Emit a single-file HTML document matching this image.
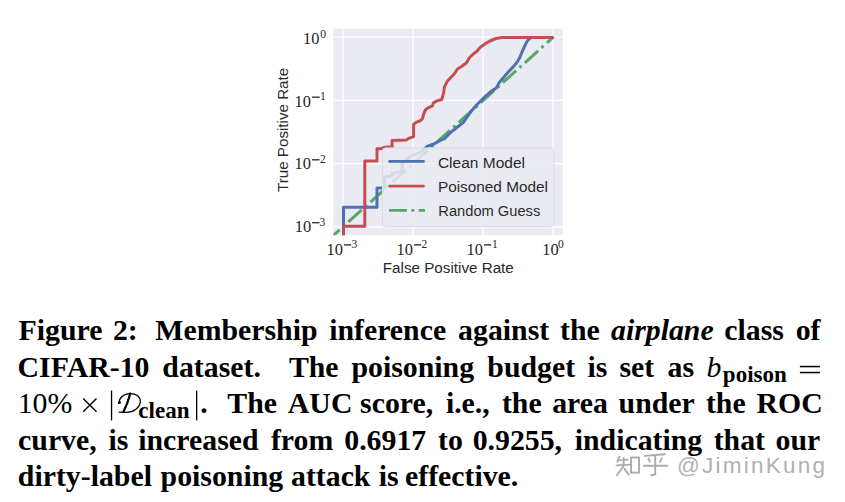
<!DOCTYPE html>
<html><head><meta charset="utf-8">
<style>
html,body{margin:0;padding:0;background:#fff;}
body{width:845px;height:502px;overflow:hidden;position:relative;}
svg{position:absolute;left:0;top:0;}
</style></head><body>
<svg width="845" height="502" viewBox="0 0 845 502">
<defs><clipPath id="pc"><rect x="333.3" y="28.6" width="229.5" height="206.6"/></clipPath></defs>
<rect x="333.3" y="28.6" width="229.5" height="206.6" fill="#EAEAF2"/>
<g stroke="#fff" stroke-width="1.2">
<line x1="343" y1="28.6" x2="343" y2="235.2"/>
<line x1="413" y1="28.6" x2="413" y2="235.2"/>
<line x1="483" y1="28.6" x2="483" y2="235.2"/>
<line x1="553" y1="28.6" x2="553" y2="235.2"/>
<line x1="333.3" y1="37" x2="562.8" y2="37"/>
<line x1="333.3" y1="100.3" x2="562.8" y2="100.3"/>
<line x1="333.3" y1="163.6" x2="562.8" y2="163.6"/>
<line x1="333.3" y1="226.8" x2="562.8" y2="226.8"/>
</g>
<g clip-path="url(#pc)" fill="none" stroke-width="3" stroke-linejoin="round">
<polyline stroke="#55A868" stroke-dasharray="17.9 4.5 2.8 4.5" stroke-dashoffset="9.4" points="333.3,235.5 553.5,37"/>
<polyline stroke="#4C72B0" points="343.5,236 343.5,207.2 377,207.2 377,187.9 384.7,187.9 384.7,176.9 391.5,176 392.3,173.3 402.2,171.5 402.2,163.5 409.4,157.2 411.2,155.4 415.7,154.5 421,151.8 427.2,146.5 433.8,144 439.3,141 444.7,138.5 450.2,132.8 457.9,126.8 463.4,122.4 471,111.4 476.6,105 484.3,97.3 491.9,90.7 496.3,88 499.6,81.9 504,77 508.2,72 513,67.1 517,62.3 519.8,57.5 522.1,51.9 524.5,46.4 526.9,41.6 528.9,39.2 531.3,37.6 535,37.4 553.5,37.4"/>
<polyline stroke="#C44E52" points="343.5,236 343.5,226.3 364.8,226.3 364.8,161 377,161 377,148.7 381,148.7 385,147.2 392.1,146.7 392.1,140.6 406.2,140.1 408.2,138.6 413.6,136.6 413.6,124.3 416,122.3 420,120.8 422.4,118.9 423.4,114.9 425.4,109.9 427.9,107.9 432.4,105.9 433.4,102.9 436.9,100.9 441.8,99.5 442.8,96 443.8,92 444.4,87.1 447.1,81.6 449.9,78.4 454.2,74 457.5,69 461.9,66.3 466.3,63 469.6,57.5 472.9,54.2 477.3,51 480,47.4 485,43.9 489.9,41 495.9,38.5 502.4,37.6 515,37.4 553.5,37.4"/>
</g>
<rect x="382.5" y="147.9" width="171.3" height="78.6" rx="3" ry="3" fill="#EAEAF2" fill-opacity="0.86" stroke="#dcdce2" stroke-width="1"/>
<g stroke-width="2.9" fill="none">
<line x1="389.6" y1="161.4" x2="423.4" y2="161.4" stroke="#4C72B0" stroke-linecap="round"/>
<line x1="389.6" y1="186.1" x2="423.4" y2="186.1" stroke="#C44E52" stroke-linecap="round"/>
<line x1="389" y1="210.4" x2="425" y2="210.4" stroke="#55A868" stroke-dasharray="17.9 4.5 2.8 4.5"/>
</g>
<g font-family="Liberation Sans, sans-serif" font-size="15.2" fill="#2a2a2a">
<text x="437.9" y="167.6" textLength="87.1" lengthAdjust="spacingAndGlyphs">Clean Model</text>
<text x="437.9" y="191.9" textLength="110.1" lengthAdjust="spacingAndGlyphs">Poisoned Model</text>
<text x="438.3" y="216.4" textLength="102" lengthAdjust="spacingAndGlyphs">Random Guess</text>
<text x="382.8" y="272.6" textLength="131" lengthAdjust="spacingAndGlyphs">False Positive Rate</text>
<text transform="translate(287.8,192) rotate(-90)" x="0" y="0" textLength="124.2" lengthAdjust="spacingAndGlyphs">True Positive Rate</text>
</g>

<g>
<text x="303.10" y="43.80" font-family="Liberation Serif" font-size="17.3" fill="#262626" textLength="16.4" lengthAdjust="spacingAndGlyphs">10</text><text x="320.20" y="37.60" font-family="Liberation Serif" font-size="11.6" fill="#262626">0</text><text x="294.50" y="106.50" font-family="Liberation Serif" font-size="17.3" fill="#262626" textLength="16.4" lengthAdjust="spacingAndGlyphs">10</text><rect x="312.1" y="96.55" width="7.60" height="1.3" fill="#262626"/><text x="320.00" y="100.00" font-family="Liberation Serif" font-size="11.6" fill="#262626">1</text><text x="294.50" y="168.90" font-family="Liberation Serif" font-size="17.3" fill="#262626" textLength="16.4" lengthAdjust="spacingAndGlyphs">10</text><rect x="312.0" y="159.15" width="7.50" height="1.3" fill="#262626"/><text x="319.90" y="162.60" font-family="Liberation Serif" font-size="11.6" fill="#262626">2</text><text x="294.70" y="231.90" font-family="Liberation Serif" font-size="17.3" fill="#262626" textLength="16.4" lengthAdjust="spacingAndGlyphs">10</text><rect x="312.1" y="222.05" width="7.40" height="1.3" fill="#262626"/><text x="319.50" y="225.50" font-family="Liberation Serif" font-size="11.6" fill="#262626">3</text><text x="326.50" y="254.90" font-family="Liberation Serif" font-size="17.3" fill="#262626" textLength="16.4" lengthAdjust="spacingAndGlyphs">10</text><rect x="344" y="244.25" width="7.20" height="1.3" fill="#262626"/><text x="351.50" y="247.80" font-family="Liberation Serif" font-size="11.6" fill="#262626">3</text><text x="396.50" y="254.90" font-family="Liberation Serif" font-size="17.3" fill="#262626" textLength="16.4" lengthAdjust="spacingAndGlyphs">10</text><rect x="414" y="244.25" width="7.20" height="1.3" fill="#262626"/><text x="421.50" y="247.80" font-family="Liberation Serif" font-size="11.6" fill="#262626">2</text><text x="466.50" y="254.90" font-family="Liberation Serif" font-size="17.3" fill="#262626" textLength="16.4" lengthAdjust="spacingAndGlyphs">10</text><rect x="484" y="244.25" width="7.20" height="1.3" fill="#262626"/><text x="492.10" y="247.80" font-family="Liberation Serif" font-size="11.6" fill="#262626">1</text><text x="542.20" y="254.80" font-family="Liberation Serif" font-size="17.3" fill="#262626" textLength="16.4" lengthAdjust="spacingAndGlyphs">10</text><text x="558.00" y="248.20" font-family="Liberation Serif" font-size="11.6" fill="#262626">0</text>
</g>
<g>
<text x="18.60" y="339.70" font-family="Liberation Serif" font-size="29.8" font-weight="bold">Figure</text>
<text x="112.95" y="339.70" font-family="Liberation Serif" font-size="29.8" font-weight="bold">2:</text>
<text x="155.30" y="339.70" font-family="Liberation Serif" font-size="29.8" font-weight="bold">Membership</text>
<text x="329.18" y="339.70" font-family="Liberation Serif" font-size="29.8" font-weight="bold">inference</text>
<text x="458.10" y="339.70" font-family="Liberation Serif" font-size="29.8" font-weight="bold">against</text>
<text x="560.10" y="339.70" font-family="Liberation Serif" font-size="29.8" font-weight="bold">the</text>
<text x="724.30" y="339.70" font-family="Liberation Serif" font-size="29.8" font-weight="bold">class</text>
<text x="795.67" y="339.70" font-family="Liberation Serif" font-size="29.8" font-weight="bold">of</text>
<text x="17.60" y="376.90" font-family="Liberation Serif" font-size="29.8" font-weight="bold">CIFAR-10</text>
<text x="162.35" y="376.90" font-family="Liberation Serif" font-size="29.8" font-weight="bold">dataset.</text>
<text x="288.90" y="376.90" font-family="Liberation Serif" font-size="29.8" font-weight="bold">The</text>
<text x="351.52" y="376.90" font-family="Liberation Serif" font-size="29.8" font-weight="bold">poisoning</text>
<text x="487.32" y="376.90" font-family="Liberation Serif" font-size="29.8" font-weight="bold">budget</text>
<text x="587.38" y="376.90" font-family="Liberation Serif" font-size="29.8" font-weight="bold">is</text>
<text x="619.52" y="376.90" font-family="Liberation Serif" font-size="29.8" font-weight="bold">set</text>
<text x="667.60" y="376.90" font-family="Liberation Serif" font-size="29.8" font-weight="bold">as</text>
<text x="227.30" y="412.80" font-family="Liberation Serif" font-size="29.8" font-weight="bold">The</text>
<text x="287.85" y="412.80" font-family="Liberation Serif" font-size="29.8" font-weight="bold">AUC</text>
<text x="360.12" y="412.80" font-family="Liberation Serif" font-size="29.8" font-weight="bold">score,</text>
<text x="445.88" y="412.80" font-family="Liberation Serif" font-size="29.8" font-weight="bold">i.e.,</text>
<text x="501.90" y="412.80" font-family="Liberation Serif" font-size="29.8" font-weight="bold">the</text>
<text x="552.20" y="412.80" font-family="Liberation Serif" font-size="29.8" font-weight="bold">area</text>
<text x="618.60" y="412.80" font-family="Liberation Serif" font-size="29.8" font-weight="bold">under</text>
<text x="705.90" y="412.80" font-family="Liberation Serif" font-size="29.8" font-weight="bold">the</text>
<text x="756.60" y="412.80" font-family="Liberation Serif" font-size="29.8" font-weight="bold">ROC</text>
<text x="18.10" y="450.00" font-family="Liberation Serif" font-size="29.8" font-weight="bold">curve,</text>
<text x="108.38" y="450.00" font-family="Liberation Serif" font-size="29.8" font-weight="bold">is</text>
<text x="138.28" y="450.00" font-family="Liberation Serif" font-size="29.8" font-weight="bold">increased</text>
<text x="270.95" y="450.00" font-family="Liberation Serif" font-size="29.8" font-weight="bold">from</text>
<text x="344.27" y="450.00" font-family="Liberation Serif" font-size="29.8" font-weight="bold">0.6917</text>
<text x="438.10" y="450.00" font-family="Liberation Serif" font-size="29.8" font-weight="bold">to</text>
<text x="472.68" y="450.00" font-family="Liberation Serif" font-size="29.8" font-weight="bold">0.9255,</text>
<text x="574.77" y="450.00" font-family="Liberation Serif" font-size="29.8" font-weight="bold">indicating</text>
<text x="713.70" y="450.00" font-family="Liberation Serif" font-size="29.8" font-weight="bold">that</text>
<text x="775.58" y="450.00" font-family="Liberation Serif" font-size="29.8" font-weight="bold">our</text>
<text x="17.85" y="485.90" font-family="Liberation Serif" font-size="29.8" font-weight="bold">dirty-label</text>
<text x="160.62" y="485.90" font-family="Liberation Serif" font-size="29.8" font-weight="bold">poisoning</text>
<text x="291.00" y="485.90" font-family="Liberation Serif" font-size="29.8" font-weight="bold">attack</text>
<text x="378.68" y="485.90" font-family="Liberation Serif" font-size="29.8" font-weight="bold">is</text>
<text x="405.00" y="485.90" font-family="Liberation Serif" font-size="29.8" font-weight="bold">effective.</text>
<text x="611.02" y="339.70" font-family="Liberation Serif" font-size="29.8" font-weight="bold" font-style="italic">airplane</text>
<text x="706.58" y="376.90" font-family="Liberation Serif" font-size="29.8" font-style="italic">b</text>
<text x="722.85" y="382.20" font-family="Liberation Serif" font-size="23" font-weight="bold">poison</text>
<rect x="799.9" y="365.8" width="20" height="1.5" fill="#000"/><rect x="799.9" y="371.8" width="20" height="1.5" fill="#000"/>
<text x="17.68" y="412.80" font-family="Liberation Serif" font-size="29.8">10%</text>
<g stroke="#000" stroke-width="1.4" stroke-linecap="butt"><line x1="83.2" y1="398.5" x2="96.5" y2="411.8"/><line x1="96.5" y1="398.5" x2="83.2" y2="411.8"/></g>
<rect x="110.9" y="390.6" width="1.3" height="29.8" fill="#000"/><rect x="196" y="390.6" width="1.3" height="29.8" fill="#000"/>
<g fill="none" stroke="#000" stroke-linecap="round"><path d="M119.3,403.2 C118.6,398.6 123.2,393.9 129.6,393.6 C136.2,393.3 140.6,396.8 140.3,401.6 C140,407.6 133.6,412.2 126.2,412.4 L119.2,412.2" stroke-width="1.25"/><path d="M130.3,393.5 C128.6,400 126.4,406 123.6,411.6" stroke-width="2.3"/></g><circle cx="119.4" cy="402.6" r="1.5" fill="#000"/>
<text x="138.35" y="417.90" font-family="Liberation Serif" font-size="23" font-weight="bold">clean</text>
<text x="200.15" y="412.80" font-family="Liberation Serif" font-size="29.8" font-weight="bold">.</text>
</g>
<g fill="none" stroke="#ababab" stroke-width="1.9" stroke-linecap="round" stroke-linejoin="round">
<path d="M619.5,456.7 L617.3,461.7 M618.3,460.4 L627.8,459.6 M623.7,457.9 L623.7,465.8 M616.6,465.4 L629.5,464.6 M623.7,465.8 L617,475.3 M624.5,468.7 L628.6,474.5 M631.1,457.5 L631.1,472.9 M631.1,457.5 L639,457.5 L639,472.9 M631.1,472.6 L639,472.6"/>
<path d="M644.8,455.9 L664.7,454.2 M648.5,458.4 L649.8,461.7 M661.8,458.4 L660.1,461.7 M644,465.8 L667.2,465.8 M655.2,455.9 L655.2,474.5 L651.4,475.3"/>
</g>
<text x="677" y="472.6" font-family="Liberation Sans" font-size="22.5" fill="#b0b0b0" textLength="148" lengthAdjust="spacing">@JiminKung</text>

</svg>
</body></html>
